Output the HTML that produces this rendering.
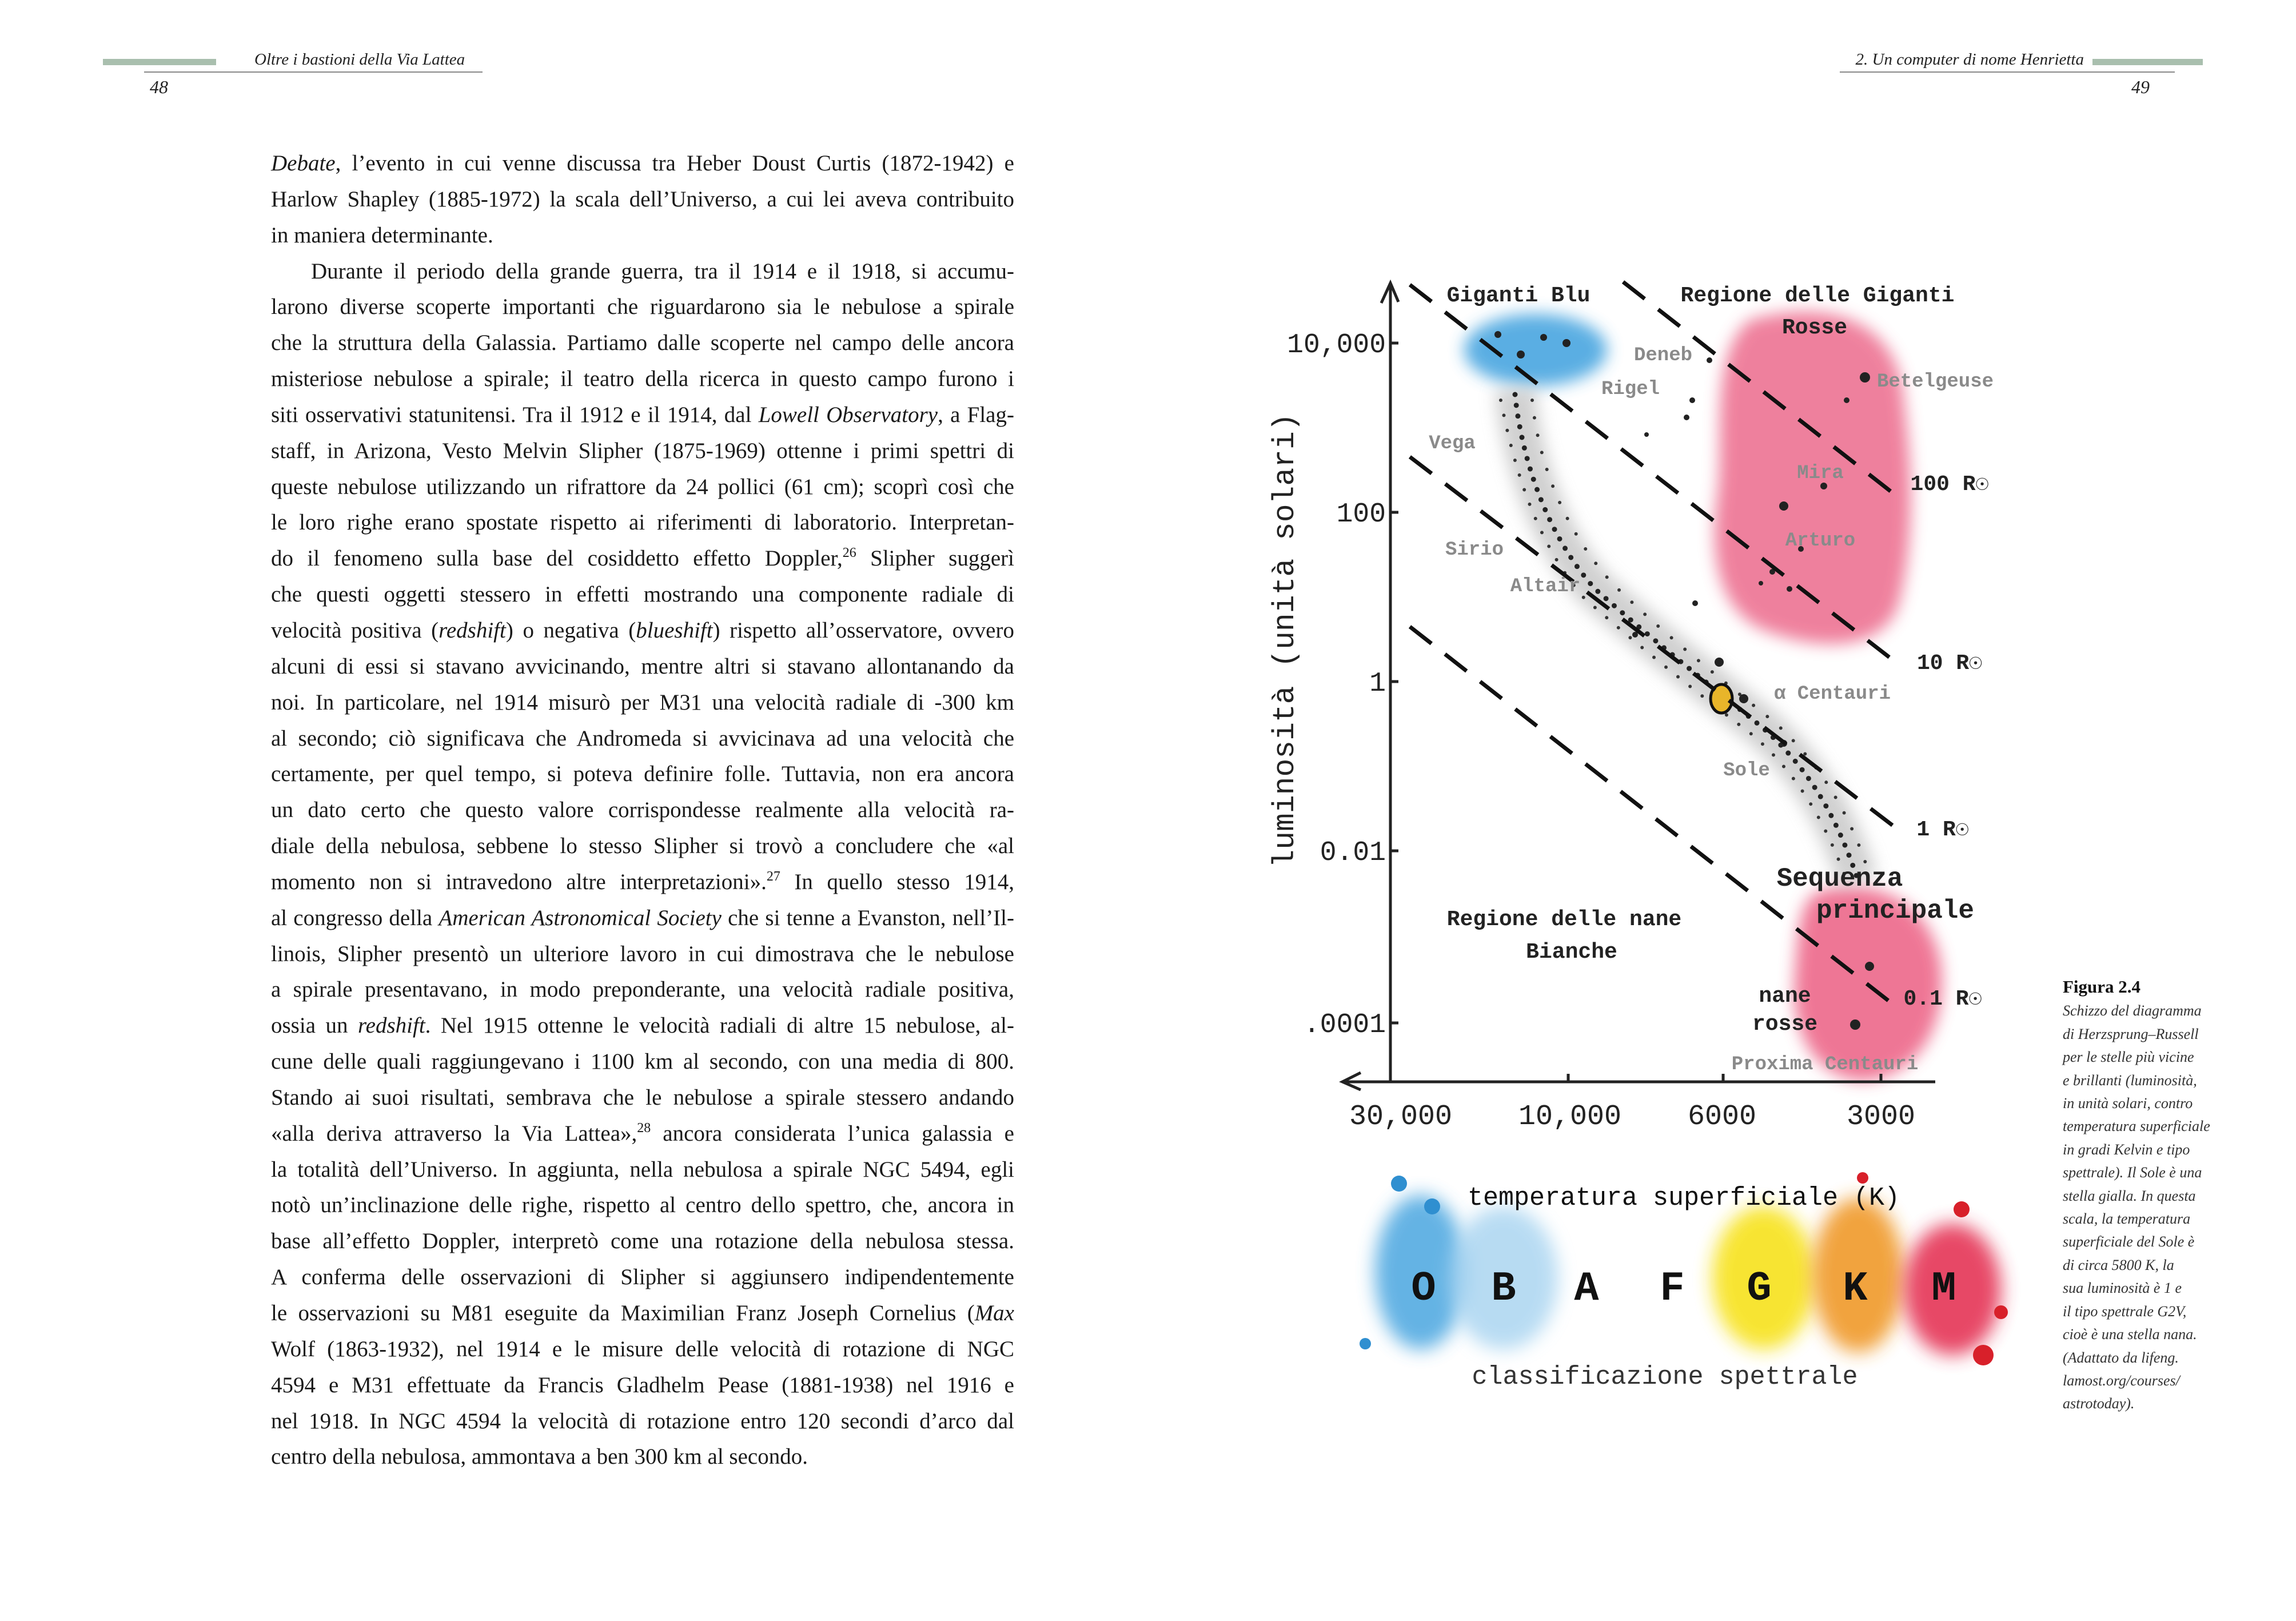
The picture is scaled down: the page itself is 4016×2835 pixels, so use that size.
<!DOCTYPE html>
<html><head><meta charset="utf-8">
<style>
html,body{margin:0;padding:0;background:#fff;}
body{width:4016px;height:2835px;position:relative;overflow:hidden;font-family:"Liberation Serif",serif;color:#1a1a1a;}
.abs{position:absolute;}
.hdr{font-style:italic;font-size:29px;white-space:nowrap;color:#222;}
.body{position:absolute;left:474px;top:258px;width:1300px;font-size:39px;}
.body div{height:62.85px;line-height:56px;white-space:nowrap;text-align:justify;text-align-last:justify;}
.body div.l{text-align-last:left;}
.body div.ind{padding-left:70px;}
sup{font-size:24px;line-height:0;vertical-align:15px;}
.cap{position:absolute;left:3608px;top:1706px;font-size:26px;font-style:italic;line-height:40.4px;color:#333;}
.cap b{font-style:normal;font-size:31px;color:#111;}
</style></head><body>
<div class="abs" style="left:180px;top:103px;width:198px;height:11px;background:#a9bfae"></div>
<div class="abs" style="left:252px;top:125px;width:592px;height:2px;background:#888"></div>
<div class="abs hdr" style="left:445px;top:88px">Oltre i bastioni della Via Lattea</div>
<div class="abs hdr" style="left:262px;top:134px;font-size:32px">48</div>

<div class="abs" style="left:3660px;top:103px;width:193px;height:11px;background:#a9bfae"></div>
<div class="abs" style="left:3218px;top:125px;width:586px;height:2px;background:#888"></div>
<div class="abs hdr" style="right:371px;top:88px">2. Un computer di nome Henrietta</div>
<div class="abs hdr" style="left:3728px;top:134px;font-size:32px">49</div>

<div class="body">
<div><i>Debate</i>, l’evento in cui venne discussa tra Heber Doust Curtis (1872-1942) e</div>
<div>Harlow Shapley (1885-1972) la scala dell’Universo, a cui lei aveva contribuito</div>
<div class="l">in maniera determinante.</div>
<div class="ind">Durante il periodo della grande guerra, tra il 1914 e il 1918, si accumu-</div>
<div>larono diverse scoperte importanti che riguardarono sia le nebulose a spirale</div>
<div>che la struttura della Galassia. Partiamo dalle scoperte nel campo delle ancora</div>
<div>misteriose nebulose a spirale; il teatro della ricerca in questo campo furono i</div>
<div>siti osservativi statunitensi. Tra il 1912 e il 1914, dal <i>Lowell Observatory</i>, a Flag-</div>
<div>staff, in Arizona, Vesto Melvin Slipher (1875-1969) ottenne i primi spettri di</div>
<div>queste nebulose utilizzando un rifrattore da 24 pollici (61 cm); scoprì così che</div>
<div>le loro righe erano spostate rispetto ai riferimenti di laboratorio. Interpretan-</div>
<div>do il fenomeno sulla base del cosiddetto effetto Doppler,<sup>26</sup> Slipher suggerì</div>
<div>che questi oggetti stessero in effetti mostrando una componente radiale di</div>
<div>velocità positiva (<i>redshift</i>) o negativa (<i>blueshift</i>) rispetto all’osservatore, ovvero</div>
<div>alcuni di essi si stavano avvicinando, mentre altri si stavano allontanando da</div>
<div>noi. In particolare, nel 1914 misurò per M31 una velocità radiale di -300 km</div>
<div>al secondo; ciò significava che Andromeda si avvicinava ad una velocità che</div>
<div>certamente, per quel tempo, si poteva definire folle. Tuttavia, non era ancora</div>
<div>un dato certo che questo valore corrispondesse realmente alla velocità ra-</div>
<div>diale della nebulosa, sebbene lo stesso Slipher si trovò a concludere che «al</div>
<div>momento non si intravedono altre interpretazioni».<sup>27</sup> In quello stesso 1914,</div>
<div>al congresso della <i>American Astronomical Society</i> che si tenne a Evanston, nell’Il-</div>
<div>linois, Slipher presentò un ulteriore lavoro in cui dimostrava che le nebulose</div>
<div>a spirale presentavano, in modo preponderante, una velocità radiale positiva,</div>
<div>ossia un <i>redshift</i>. Nel 1915 ottenne le velocità radiali di altre 15 nebulose, al-</div>
<div>cune delle quali raggiungevano i 1100 km al secondo, con una media di 800.</div>
<div>Stando ai suoi risultati, sembrava che le nebulose a spirale stessero andando</div>
<div>«alla deriva attraverso la Via Lattea»,<sup>28</sup> ancora considerata l’unica galassia e</div>
<div>la totalità dell’Universo. In aggiunta, nella nebulosa a spirale NGC 5494, egli</div>
<div>notò un’inclinazione delle righe, rispetto al centro dello spettro, che, ancora in</div>
<div>base all’effetto Doppler, interpretò come una rotazione della nebulosa stessa.</div>
<div>A conferma delle osservazioni di Slipher si aggiunsero indipendentemente</div>
<div>le osservazioni su M81 eseguite da Maximilian Franz Joseph Cornelius (<i>Max</i></div>
<div>Wolf (1863-1932), nel 1914 e le misure delle velocità di rotazione di NGC</div>
<div>4594 e M31 effettuate da Francis Gladhelm Pease (1881-1938) nel 1916 e</div>
<div>nel 1918. In NGC 4594 la velocità di rotazione entro 120 secondi d’arco dal</div>
<div class="l">centro della nebulosa, ammontava a ben 300 km al secondo.</div>
</div>

<svg class="abs" style="left:0;top:0" width="4016" height="2835" viewBox="0 0 4016 2835">
<defs>
<filter id="bl" x="-30%" y="-30%" width="160%" height="160%"><feGaussianBlur stdDeviation="14"/></filter>
<filter id="bl2" x="-30%" y="-30%" width="160%" height="160%"><feGaussianBlur stdDeviation="16"/></filter>
</defs>
<!-- blobs -->
<ellipse cx="2686" cy="612" rx="125" ry="63" fill="#4aa6e0" filter="url(#bl)" opacity="0.9"/>
<path d="M3060 560 C3200 520 3320 560 3330 700 C3345 820 3350 950 3320 1060 C3290 1140 3180 1140 3080 1100 C3000 1060 2990 960 3005 860 C3015 760 2990 620 3060 560Z" fill="#ec6a8c" filter="url(#bl)" opacity="0.85"/>
<path d="M3180 1560 C3280 1530 3380 1580 3395 1690 C3405 1790 3360 1880 3260 1890 C3170 1885 3130 1800 3140 1700 C3145 1620 3150 1575 3180 1560Z" fill="#ec5f83" filter="url(#bl)" opacity="0.85"/>
<!-- main sequence band -->
<path d="M2650 680 C2660 790 2700 930 2790 1030 C2880 1110 2980 1190 3080 1270 C3160 1340 3210 1420 3250 1540" stroke="#bdbdbd" stroke-width="70" fill="none" filter="url(#bl)" opacity="0.7"/>
<path d="M2650 690 C2660 790 2700 930 2790 1030 C2880 1110 2980 1190 3080 1270 C3160 1340 3210 1420 3250 1540" stroke="#222" stroke-width="9" stroke-linecap="round" stroke-dasharray="0 19" fill="none"/>
<path d="M2625 700 C2645 800 2680 940 2770 1045 C2860 1125 2960 1205 3065 1285 C3140 1350 3190 1430 3230 1540" stroke="#333" stroke-width="6" stroke-linecap="round" stroke-dasharray="0 27" fill="none"/>
<path d="M2680 700 C2690 800 2730 920 2820 1020 C2900 1100 3000 1180 3100 1260 C3180 1330 3235 1420 3270 1530" stroke="#333" stroke-width="6" stroke-linecap="round" stroke-dasharray="0 31" fill="none"/>
<g fill="#222">
<circle cx="2620" cy="585" r="6"/><circle cx="2660" cy="620" r="7"/><circle cx="2700" cy="590" r="6"/><circle cx="2740" cy="600" r="7"/>
<circle cx="2990" cy="630" r="5"/><circle cx="2960" cy="700" r="5"/><circle cx="2950" cy="730" r="5"/><circle cx="2880" cy="760" r="4"/>
<circle cx="3262" cy="660" r="9"/><circle cx="3230" cy="700" r="5"/><circle cx="3190" cy="850" r="6"/><circle cx="3120" cy="885" r="8"/>
<circle cx="3150" cy="960" r="5"/><circle cx="3100" cy="1000" r="5"/><circle cx="3130" cy="1030" r="5"/><circle cx="3080" cy="1020" r="4"/>
<circle cx="3007" cy="1158" r="8"/><circle cx="3050" cy="1222" r="8"/><circle cx="3270" cy="1690" r="8"/><circle cx="3245" cy="1792" r="9"/>
<circle cx="2965" cy="1055" r="5"/><circle cx="2860" cy="1110" r="5"/><circle cx="3120" cy="1300" r="6"/>
</g>
<!-- sun -->
<ellipse cx="3011" cy="1222" rx="19" ry="25" fill="#e8b52a" stroke="#111" stroke-width="5"/>
<!-- axes -->
<g stroke="#222" stroke-width="5" fill="none">
<path d="M2432 1892 L2432 495"/>
<path d="M2416 530 L2432 495 L2446 528"/>
<path d="M2348 1892 L3385 1892"/>
<path d="M2380 1876 L2348 1892 L2380 1906"/>
<path d="M2432 600h14M2432 896h14M2432 1192h14M2432 1488h14M2432 1789h14"/>
<path d="M2743 1892v-14M3014 1892v-14M3290 1892v-14"/>
</g>
<g stroke="#111" stroke-width="7" stroke-dasharray="48 30" fill="none">
<path d="M2466 498 L3322 1163"/>
<path d="M2839 493 L3322 871"/>
<path d="M2466 799 L3332 1460"/>
<path d="M2466 1096 L3317 1761"/>
</g>
<g font-family="Liberation Mono, monospace" fill="#222">
<text x="2424" y="616" font-size="48" text-anchor="end">10,000</text>
<text x="2424" y="912" font-size="48" text-anchor="end">100</text>
<text x="2424" y="1208" font-size="48" text-anchor="end">1</text>
<text x="2424" y="1504" font-size="48" text-anchor="end">0.01</text>
<text x="2424" y="1805" font-size="48" text-anchor="end">.0001</text>
<text x="2450" y="1966" font-size="50" text-anchor="middle">30,000</text>
<text x="2746" y="1966" font-size="50" text-anchor="middle">10,000</text>
<text x="3012" y="1966" font-size="50" text-anchor="middle">6000</text>
<text x="3290" y="1966" font-size="50" text-anchor="middle">3000</text>
<text transform="translate(2262 1120) rotate(-90)" font-size="53" text-anchor="middle">luminosità (unità solari)</text>
<g font-size="38" text-anchor="middle" font-weight="bold">
<text x="2656" y="527">Giganti Blu</text>
<text x="3179" y="527">Regione delle Giganti</text>
<text x="3174" y="583">Rosse</text>
<text x="3410" y="857">100 R☉</text>
<text x="3410" y="1170">10 R☉</text>
<text x="3398" y="1461">1 R☉</text>
<text x="3398" y="1757">0.1 R☉</text>
<text x="3218" y="1549" font-size="46">Sequenza</text>
<text x="3315" y="1605" font-size="46">principale</text>
<text x="2736" y="1618">Regione delle nane</text>
<text x="2749" y="1675">Bianche</text>
<text x="3122" y="1752">nane</text>
<text x="3122" y="1801">rosse</text>
</g>
<g font-size="34" text-anchor="middle" fill="#8a8a8a" font-weight="bold">
<text x="2909" y="630">Deneb</text>
<text x="2852" y="689">Rigel</text>
<text x="3385" y="676">Betelgeuse</text>
<text x="2540" y="784">Vega</text>
<text x="3184" y="836">Mira</text>
<text x="2579" y="970">Sirio</text>
<text x="3184" y="954">Arturo</text>
<text x="2703" y="1034">Altair</text>
<text x="3205" y="1222">α Centauri</text>
<text x="3055" y="1356">Sole</text>
<text x="3192" y="1870">Proxima Centauri</text>
</g>
</g>
<!-- spectral blobs -->
<ellipse cx="2485" cy="2225" rx="80" ry="135" fill="#4aa6e0" filter="url(#bl2)" opacity="0.85"/>
<ellipse cx="2630" cy="2235" rx="95" ry="125" fill="#a6d3f0" filter="url(#bl2)" opacity="0.8"/>
<ellipse cx="3085" cy="2235" rx="90" ry="125" fill="#f7e21c" filter="url(#bl2)" opacity="0.9"/>
<ellipse cx="3250" cy="2230" rx="80" ry="135" fill="#f09a2a" filter="url(#bl2)" opacity="0.9"/>
<ellipse cx="3415" cy="2255" rx="85" ry="115" fill="#e53656" filter="url(#bl2)" opacity="0.9"/>
<circle cx="2447" cy="2070" r="14" fill="#2f8fd0"/>
<circle cx="2505" cy="2110" r="14" fill="#2f8fd0"/>
<circle cx="2388" cy="2350" r="10" fill="#2f8fd0"/>
<circle cx="3469" cy="2370" r="18" fill="#d8202a"/>
<circle cx="3431" cy="2115" r="14" fill="#d8202a"/>
<circle cx="3500" cy="2295" r="12" fill="#d8202a"/>
<circle cx="3258" cy="2060" r="10" fill="#d8202a"/>
<g font-family="Liberation Mono, monospace" fill="#111" text-anchor="middle">
<text x="2945" y="2107" font-size="45">temperatura superficiale (K)</text>
<text x="2490" y="2273" font-size="72" font-weight="bold">O</text>
<text x="2630" y="2273" font-size="72" font-weight="bold">B</text>
<text x="2775" y="2273" font-size="72" font-weight="bold">A</text>
<text x="2925" y="2273" font-size="72" font-weight="bold">F</text>
<text x="3077" y="2273" font-size="72" font-weight="bold">G</text>
<text x="3245" y="2273" font-size="72" font-weight="bold">K</text>
<text x="3400" y="2273" font-size="72" font-weight="bold">M</text>
<text x="2912" y="2420" font-size="45" fill="#333">classificazione spettrale</text>
</g>
</svg>

<div class="cap"><b>Figura 2.4</b><br>Schizzo del diagramma<br>di Herzsprung–Russell<br>per le stelle più vicine<br>e brillanti (luminosità,<br>in unità solari, contro<br>temperatura superficiale<br>in gradi Kelvin e tipo<br>spettrale). Il Sole è una<br>stella gialla. In questa<br>scala, la temperatura<br>superficiale del Sole è<br>di circa 5800 K, la<br>sua luminosità è 1 e<br>il tipo spettrale G2V,<br>cioè è una stella nana.<br>(Adattato da lifeng.<br>lamost.org/courses/<br>astrotoday).</div>
</body></html>
